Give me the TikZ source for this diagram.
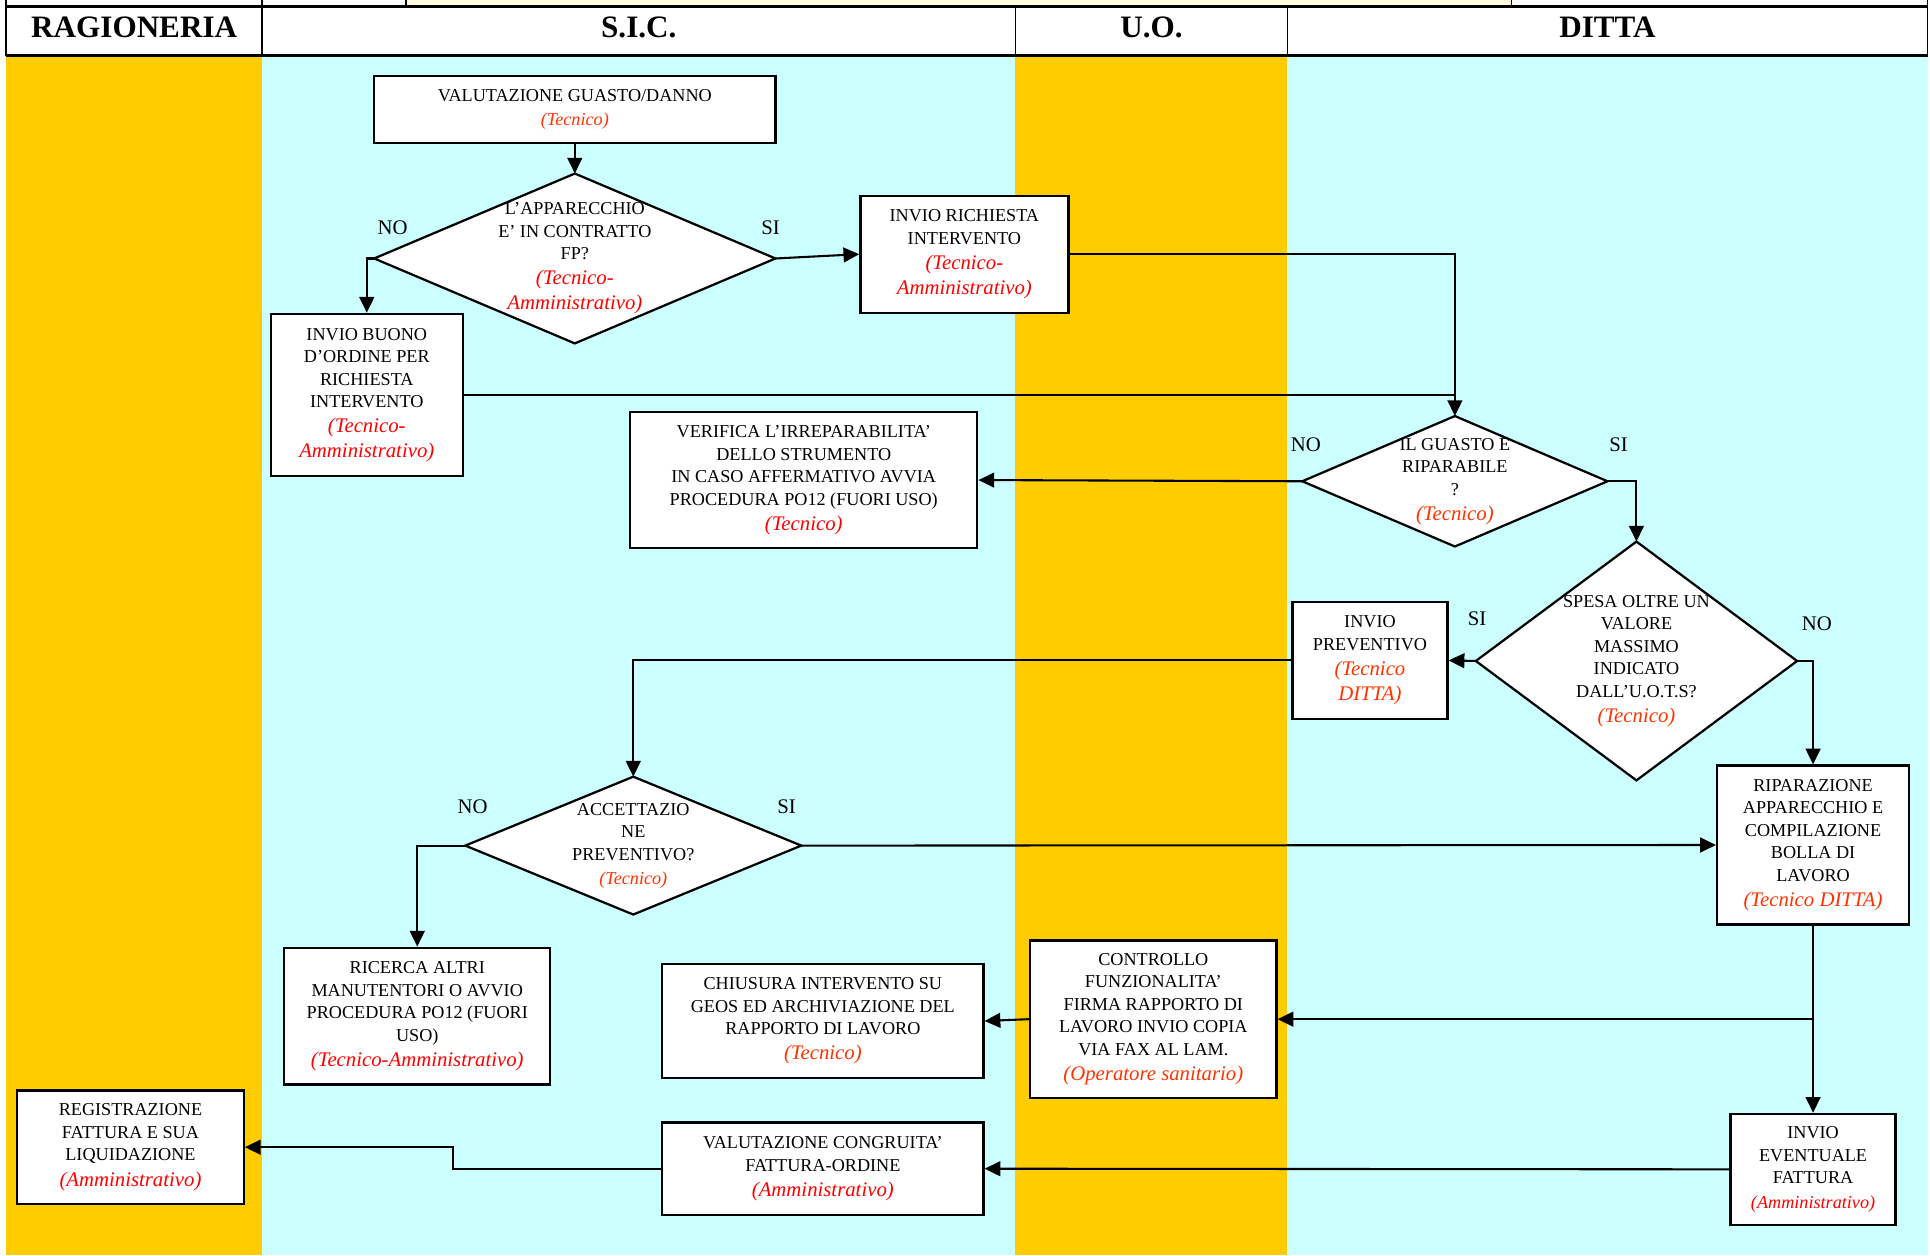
\documentclass[tikz,border=0pt]{standalone}
\usepackage{fontspec}
\setmainfont{Liberation Serif}
\usetikzlibrary{arrows.meta, shapes.geometric}

\definecolor{giallo}{HTML}{FFCC00}
\definecolor{celeste}{HTML}{CCFFFF}
\definecolor{paglia}{HTML}{FFFFE0}
\definecolor{rosso}{HTML}{FF0000}
\definecolor{arancio}{HTML}{FF3300}

\newcommand{\rossa}[2][12]{{\fontsize{#1}{14}\selectfont\itshape\color{rosso}#2}}
\newcommand{\arancia}[2][12]{{\fontsize{#1}{14}\selectfont\itshape\color{arancio}#2}}

\begin{document}
\begin{tikzpicture}[x=0.025cm, y=-0.025cm,
  dim/.style 2 args={minimum width=#1*0.025cm, minimum height=#2*0.025cm},
  box/.style={draw, fill=white, line width=1.3pt, inner sep=0pt, align=center, font=\fontsize{10.5}{13}\selectfont},
  decision/.style={draw, diamond, fill=white, line width=1.3pt, inner sep=0pt, outer sep=0pt},
  dtext/.style={align=center, font=\fontsize{10.5}{13}\selectfont},
  etic/.style={font=\fontsize{12}{14}\selectfont},
  testa/.style={draw, line width=1pt, inner sep=0pt, text depth=4pt, font=\fontsize{18}{20}\selectfont\bfseries},
  freccia/.style={line width=1.2pt, -{Triangle[length=3.2mm, width=3mm]}},
  linea/.style={line width=1.2pt}]
\useasboundingbox (0,0) rectangle (1568,1020);
\clip (0,0) rectangle (1568,1020);
\fill[white] (0,0) rectangle (1568,1020);

\fill[giallo] (5,46) rectangle (213,1020);
\fill[celeste] (213,46) rectangle (825,1020);
\fill[giallo] (825,46) rectangle (1046,1020);
\fill[celeste] (1046,46) rectangle (1566,1020);

\fill[paglia] (330,-10) rectangle (1228,5);
\foreach \xx in {5,213,330,1228,1566}
  \draw[line width=1pt] (\xx,-10) -- (\xx,5);

\node[testa, dim={208}{40}] (h1) at (109,25) {RAGIONERIA};
\node[testa, dim={612}{40}] (h2) at (519,25) {S.I.C.};
\node[testa, dim={221}{40}] (h3) at (935.5,25) {U.O.};
\node[testa, dim={520}{40}] (h4) at (1306,25) {DITTA};
\draw[line width=1.8pt] (5,5) -- (1566,5) (5,45) -- (1566,45);

\node[box, dim={326}{54}] (v1) at (467,89) {VALUTAZIONE GUASTO/DANNO\\[1pt]\arancia[10.5]{(Tecnico)}};
\node[decision, dim={326}{138}] (d1) at (467,210) {};
\node[dtext] (t1) at (d1) {L'APPARECCHIO\\E' IN CONTRATTO\\FP?\\[1.5pt]\rossa{(Tecnico-}\\[1.5pt]\rossa{Amministrativo)}};
\node[box, dim={169}{95}] (v3) at (783.5,206.5) {INVIO RICHIESTA\\INTERVENTO\\[1.5pt]\rossa{(Tecnico-}\\[1.5pt]\rossa{Amministrativo)}};
\node[box, dim={156}{132}] (v4) at (298,321) {INVIO BUONO\\D'ORDINE PER\\RICHIESTA\\INTERVENTO\\[1.5pt]\rossa{(Tecnico-}\\[1.5pt]\rossa{Amministrativo)}};
\node[box, dim={282}{110}] (v5) at (653,390) {VERIFICA L'IRREPARABILITA'\\DELLO STRUMENTO\\IN CASO AFFERMATIVO AVVIA\\PROCEDURA PO12 (FUORI USO)\\[1.5pt]\rossa{(Tecnico)}};
\node[decision, dim={248}{106}] (d2) at (1182,391) {};
\node[dtext] (t2) at (d2) {IL GUASTO E\\RIPARABILE\\?\\[1.5pt]\arancia{(Tecnico)}};
\node[decision, dim={261}{194}] (d3) at (1329.5,537) {};
\node[dtext] (t3) at (d3) {SPESA OLTRE UN\\VALORE\\MASSIMO\\INDICATO\\DALL'U.O.T.S?\\[1.5pt]\arancia{(Tecnico)}};
\node[box, dim={126}{95}] (v8) at (1113,536.5) {INVIO\\PREVENTIVO\\[1.5pt]\arancia{(Tecnico}\\[1.5pt]\arancia{DITTA)}};
\node[decision, dim={273}{112}] (d4) at (514.5,687) {};
\node[dtext] (t4) at (d4) {ACCETTAZIO\\NE\\PREVENTIVO?\\[1pt]\arancia[10.5]{(Tecnico)}};
\node[box, dim={156}{129}] (v10) at (1473,686.5) {RIPARAZIONE\\APPARECCHIO E\\COMPILAZIONE\\BOLLA DI\\LAVORO\\[1.5pt]\arancia{(Tecnico DITTA)}};
\node[box, dim={216}{111}] (v11) at (339,825.5) {RICERCA ALTRI\\MANUTENTORI O AVVIO\\PROCEDURA PO12 (FUORI\\USO)\\[1.5pt]\rossa{(Tecnico-Amministrativo)}};
\node[box, dim={261}{93}] (v12) at (668.5,829.5) {CHIUSURA INTERVENTO SU\\GEOS ED ARCHIVIAZIONE DEL\\RAPPORTO DI LAVORO\\[1.5pt]\arancia{(Tecnico)}};
\node[box, dim={200}{128}] (v13) at (937,828) {CONTROLLO\\FUNZIONALITA'\\FIRMA RAPPORTO DI\\LAVORO INVIO COPIA\\VIA FAX AL LAM.\\[1.5pt]\arancia{(Operatore sanitario)}};
\node[box, dim={184}{92}] (v14) at (106,932) {REGISTRAZIONE\\FATTURA E SUA\\LIQUIDAZIONE\\[1.5pt]\rossa{(Amministrativo)}};
\node[box, dim={261}{75}] (v15) at (668.5,949.5) {VALUTAZIONE CONGRUITA'\\FATTURA-ORDINE\\[1.5pt]\rossa{(Amministrativo)}};
\node[box, dim={134}{90}] (v16) at (1473,950) {INVIO\\EVENTUALE\\FATTURA\\[1pt]\rossa[10.5]{(Amministrativo)}};

\node[etic] (n1) at (319,185) {NO};
\node[etic] (s1) at (626,185) {SI};
\node[etic] (n2) at (1061,361) {NO};
\node[etic] (s2) at (1315,361) {SI};
\node[etic] (s3) at (1200,503) {SI};
\node[etic] (n3) at (1476,507) {NO};
\node[etic] (n4) at (384,655) {NO};
\node[etic] (s4) at (639,655) {SI};

\draw[freccia] (v1.south) -- (d1.north);
\draw[freccia] (d1.west) -| (v4.north);
\draw[freccia] (d1.east) -- (v3.west);
\draw[freccia] (v3.east) -| (d2.north);
\draw[linea] (v4.east) -- (v4.east -| d2.north);
\draw[freccia] (d2.west) -- (v5.east);
\draw[freccia] (d2.east) -| (d3.north);
\draw[freccia] (d3.west) -- (v8.east);
\draw[freccia] (d3.east) -| (v10.north);
\draw[freccia] (v8.west) -| (d4.north);
\draw[freccia] (d4.west) -| (v11.north);
\draw[freccia] (d4.east) -- (v10.west);
\draw[freccia] (v10.south) -- (v16.north);
\draw[freccia] (v10.south |- v13.east) -- (v13.east);
\draw[freccia] (v13.west) -- (v12.east);
\draw[freccia] (v16.west) -- (v15.east);
\draw[freccia] (v15.west) -- ++(-169,0) |- (v14.east);

\end{tikzpicture}
\end{document}
